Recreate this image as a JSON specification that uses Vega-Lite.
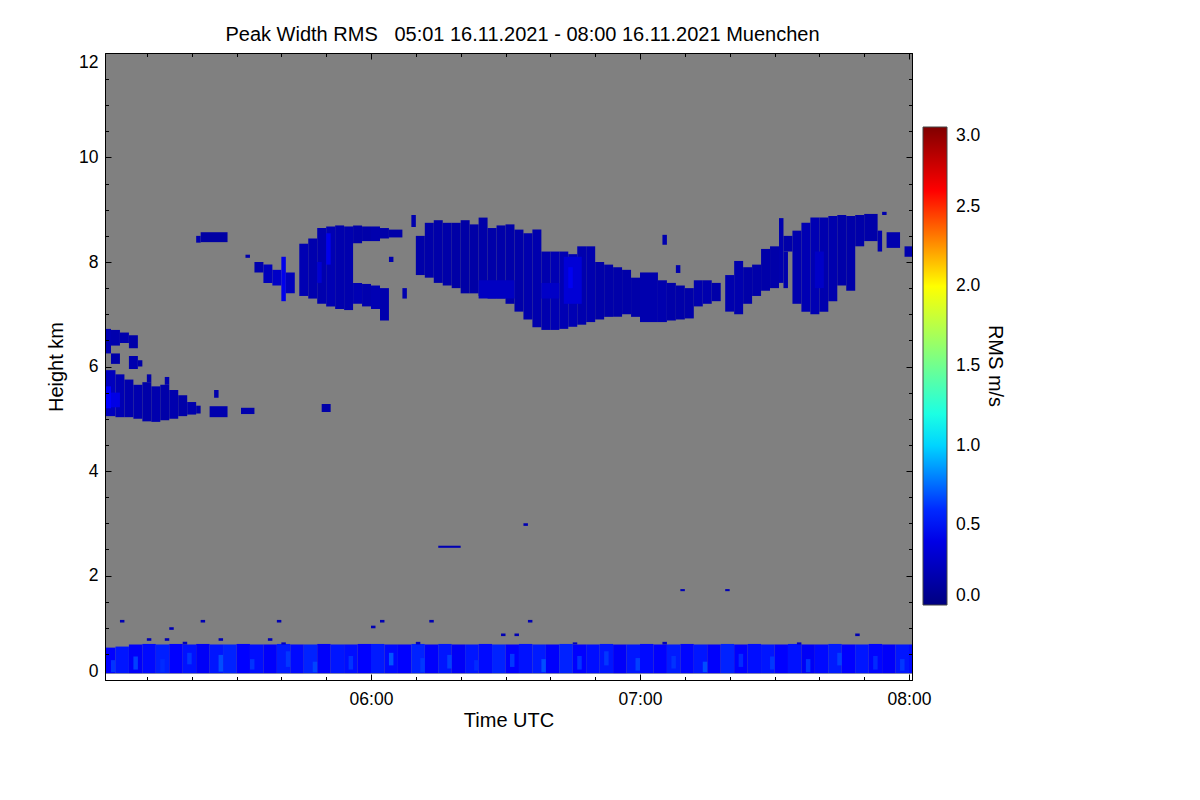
{
  "$schema": "https://vega.github.io/schema/vega-lite/v6.json",
  "autosize": {"type": "none"},
  "padding": {"left": 105, "top": 53, "right": 288, "bottom": 120},
  "width": 807,
  "height": 627,
  "background": "white",
  "title": {
    "text": "Peak Width RMS\u00a0\u00a0\u00a005:01 16.11.2021 - 08:00 16.11.2021 Muenchen",
    "font": "Liberation Sans", "fontSize": 20, "fontWeight": "normal", "color": "black",
    "dx": 14, "offset": 8
  },
  "layer": [
    {
      "data": {
        "values": [{"t0": "05:00", "t1": "08:02", "lo": 0.12, "hi": 12.3}],
        "format": {"parse": {"t0": "utc:'%H:%M'", "t1": "utc:'%H:%M'"}}
      },
      "mark": {"type": "rect", "color": "#808080", "clip": true},
      "encoding": {
        "x": {
          "field": "t0", "type": "temporal",
          "scale": {"type": "utc", "domain": [-2208970760000, -2208959960000]},
          "axis": {
            "orient": "bottom", "title": "Time UTC", "zindex": 1,
            "values": [-2208967200000, -2208963600000, -2208960000000],
            "format": "%H:%M", "tickSize": -6,
            "labelPadding": 16, "titlePadding": 3, "labelFlush": false
          }
        },
        "x2": {"field": "t1"},
        "y": {
          "field": "lo", "type": "quantitative",
          "scale": {"domain": [0, 12], "nice": false},
          "axis": {
            "orient": "left", "title": "Height km", "zindex": 1,
            "values": [0, 2, 4, 6, 8, 10, 12], "tickSize": -6,
            "labelPadding": 13, "titlePadding": 12, "labelFlush": true
          }
        },
        "y2": {"field": "hi"}
      }
    },
    {
      "data": {
        "values": [{"t0": "05:00", "t1": "05:00", "lo": 0, "hi": 0}],
        "format": {"parse": {"t0": "utc:'%H:%M'", "t1": "utc:'%H:%M'"}}
      },
      "mark": {"type": "rect", "opacity": 0, "clip": true},
      "encoding": {
        "x": {
          "field": "t0", "type": "temporal",
          "axis": {
            "orient": "bottom", "title": null, "labels": false, "domain": false, "zindex": 1,
            "values": [-2208970200000, -2208969600000, -2208969000000, -2208968400000, -2208967800000, -2208967200000, -2208966600000, -2208966000000, -2208965400000, -2208964800000, -2208964200000, -2208963600000, -2208963000000, -2208962400000, -2208961800000, -2208961200000, -2208960600000, -2208960000000],
            "tickSize": -3.5
          }
        },
        "x2": {"field": "t1"},
        "y": {
          "field": "lo", "type": "quantitative",
          "axis": {
            "orient": "left", "title": null, "labels": false, "domain": false, "zindex": 1,
            "values": [0.5, 1, 1.5, 2.5, 3, 3.5, 4.5, 5, 5.5, 6.5, 7, 7.5, 8.5, 9, 9.5, 10.5, 11, 11.5],
            "tickSize": -3.5
          }
        },
        "y2": {"field": "hi"}
      }
    },
    {
      "data": {
        "values": [{"t0": "05:01", "t1": "05:01", "lo": 0, "hi": 0}],
        "format": {"parse": {"t0": "utc:'%H:%M'", "t1": "utc:'%H:%M'"}}
      },
      "mark": {"type": "rect", "opacity": 0, "clip": true},
      "encoding": {
        "x": {
          "field": "t0", "type": "temporal",
          "axis": {
            "orient": "top", "title": null, "labels": false, "zindex": 1,
            "values": [-2208967200000, -2208963600000, -2208960000000], "tickSize": -6
          }
        },
        "x2": {"field": "t1"},
        "y": {
          "field": "lo", "type": "quantitative",
          "axis": {
            "orient": "right", "title": null, "labels": false, "zindex": 1,
            "values": [0, 2, 4, 6, 8, 10, 12], "tickSize": -6
          }
        },
        "y2": {"field": "hi"}
      }
    },
    {
      "data": {
        "values": [
          {"t0": "05:00", "t1": "05:03", "lo": 0.13, "hi": 0.62, "v": 0.5},
          {"t0": "05:03", "t1": "05:06", "lo": 0.13, "hi": 0.64, "v": 0.55},
          {"t0": "05:06", "t1": "05:09", "lo": 0.13, "hi": 0.68, "v": 0.48},
          {"t0": "05:09", "t1": "05:12", "lo": 0.13, "hi": 0.69, "v": 0.52},
          {"t0": "05:12", "t1": "05:15", "lo": 0.13, "hi": 0.68, "v": 0.57},
          {"t0": "05:15", "t1": "05:18", "lo": 0.13, "hi": 0.69, "v": 0.5},
          {"t0": "05:18", "t1": "05:21", "lo": 0.13, "hi": 0.68, "v": 0.54},
          {"t0": "05:21", "t1": "05:24", "lo": 0.13, "hi": 0.69, "v": 0.47},
          {"t0": "05:24", "t1": "05:27", "lo": 0.13, "hi": 0.68, "v": 0.55},
          {"t0": "05:27", "t1": "05:30", "lo": 0.13, "hi": 0.68, "v": 0.58},
          {"t0": "05:30", "t1": "05:33", "lo": 0.13, "hi": 0.69, "v": 0.5},
          {"t0": "05:33", "t1": "05:36", "lo": 0.13, "hi": 0.68, "v": 0.53},
          {"t0": "05:36", "t1": "05:39", "lo": 0.13, "hi": 0.68, "v": 0.49},
          {"t0": "05:39", "t1": "05:42", "lo": 0.13, "hi": 0.69, "v": 0.56},
          {"t0": "05:42", "t1": "05:45", "lo": 0.13, "hi": 0.68, "v": 0.52},
          {"t0": "05:45", "t1": "05:48", "lo": 0.13, "hi": 0.68, "v": 0.58},
          {"t0": "05:48", "t1": "05:51", "lo": 0.13, "hi": 0.69, "v": 0.48},
          {"t0": "05:51", "t1": "05:54", "lo": 0.13, "hi": 0.68, "v": 0.55},
          {"t0": "05:54", "t1": "05:57", "lo": 0.13, "hi": 0.68, "v": 0.53},
          {"t0": "05:57", "t1": "06:00", "lo": 0.13, "hi": 0.69, "v": 0.5},
          {"t0": "06:00", "t1": "06:03", "lo": 0.13, "hi": 0.69, "v": 0.56},
          {"t0": "06:03", "t1": "06:06", "lo": 0.13, "hi": 0.68, "v": 0.52},
          {"t0": "06:06", "t1": "06:09", "lo": 0.13, "hi": 0.68, "v": 0.5},
          {"t0": "06:09", "t1": "06:12", "lo": 0.13, "hi": 0.69, "v": 0.58},
          {"t0": "06:12", "t1": "06:15", "lo": 0.13, "hi": 0.68, "v": 0.49},
          {"t0": "06:15", "t1": "06:18", "lo": 0.13, "hi": 0.69, "v": 0.55},
          {"t0": "06:18", "t1": "06:21", "lo": 0.13, "hi": 0.68, "v": 0.47},
          {"t0": "06:21", "t1": "06:24", "lo": 0.13, "hi": 0.68, "v": 0.55},
          {"t0": "06:24", "t1": "06:27", "lo": 0.13, "hi": 0.69, "v": 0.52},
          {"t0": "06:27", "t1": "06:30", "lo": 0.13, "hi": 0.68, "v": 0.58},
          {"t0": "06:30", "t1": "06:33", "lo": 0.13, "hi": 0.68, "v": 0.5},
          {"t0": "06:33", "t1": "06:36", "lo": 0.13, "hi": 0.69, "v": 0.54},
          {"t0": "06:36", "t1": "06:39", "lo": 0.13, "hi": 0.68, "v": 0.56},
          {"t0": "06:39", "t1": "06:42", "lo": 0.13, "hi": 0.68, "v": 0.49},
          {"t0": "06:42", "t1": "06:45", "lo": 0.13, "hi": 0.69, "v": 0.58},
          {"t0": "06:45", "t1": "06:48", "lo": 0.13, "hi": 0.68, "v": 0.5},
          {"t0": "06:48", "t1": "06:51", "lo": 0.13, "hi": 0.68, "v": 0.53},
          {"t0": "06:51", "t1": "06:54", "lo": 0.13, "hi": 0.69, "v": 0.55},
          {"t0": "06:54", "t1": "06:57", "lo": 0.13, "hi": 0.68, "v": 0.48},
          {"t0": "06:57", "t1": "07:00", "lo": 0.13, "hi": 0.68, "v": 0.55},
          {"t0": "07:00", "t1": "07:03", "lo": 0.13, "hi": 0.69, "v": 0.52},
          {"t0": "07:03", "t1": "07:06", "lo": 0.13, "hi": 0.68, "v": 0.5},
          {"t0": "07:06", "t1": "07:09", "lo": 0.13, "hi": 0.68, "v": 0.56},
          {"t0": "07:09", "t1": "07:12", "lo": 0.13, "hi": 0.69, "v": 0.51},
          {"t0": "07:12", "t1": "07:15", "lo": 0.13, "hi": 0.68, "v": 0.55},
          {"t0": "07:15", "t1": "07:18", "lo": 0.13, "hi": 0.68, "v": 0.49},
          {"t0": "07:18", "t1": "07:21", "lo": 0.13, "hi": 0.69, "v": 0.58},
          {"t0": "07:21", "t1": "07:24", "lo": 0.13, "hi": 0.68, "v": 0.5},
          {"t0": "07:24", "t1": "07:27", "lo": 0.13, "hi": 0.69, "v": 0.53},
          {"t0": "07:27", "t1": "07:30", "lo": 0.13, "hi": 0.68, "v": 0.55},
          {"t0": "07:30", "t1": "07:33", "lo": 0.13, "hi": 0.68, "v": 0.5},
          {"t0": "07:33", "t1": "07:36", "lo": 0.13, "hi": 0.69, "v": 0.54},
          {"t0": "07:36", "t1": "07:39", "lo": 0.13, "hi": 0.68, "v": 0.47},
          {"t0": "07:39", "t1": "07:42", "lo": 0.13, "hi": 0.68, "v": 0.52},
          {"t0": "07:42", "t1": "07:45", "lo": 0.13, "hi": 0.69, "v": 0.56},
          {"t0": "07:45", "t1": "07:48", "lo": 0.13, "hi": 0.68, "v": 0.5},
          {"t0": "07:48", "t1": "07:51", "lo": 0.13, "hi": 0.68, "v": 0.55},
          {"t0": "07:51", "t1": "07:54", "lo": 0.13, "hi": 0.69, "v": 0.51},
          {"t0": "07:54", "t1": "07:57", "lo": 0.13, "hi": 0.68, "v": 0.48},
          {"t0": "07:57", "t1": "08:00", "lo": 0.13, "hi": 0.68, "v": 0.55},
          {"t0": "08:00", "t1": "08:03", "lo": 0.13, "hi": 0.68, "v": 0.52},
          {"t0": "05:02", "t1": "05:03", "lo": 0.15, "hi": 0.38, "v": 0.62},
          {"t0": "05:07", "t1": "05:08", "lo": 0.2, "hi": 0.45, "v": 0.65},
          {"t0": "05:13", "t1": "05:14", "lo": 0.15, "hi": 0.4, "v": 0.6},
          {"t0": "05:19", "t1": "05:20", "lo": 0.3, "hi": 0.52, "v": 0.63},
          {"t0": "05:26", "t1": "05:27", "lo": 0.16, "hi": 0.48, "v": 0.68},
          {"t0": "05:33", "t1": "05:34", "lo": 0.2, "hi": 0.4, "v": 0.62},
          {"t0": "05:41", "t1": "05:42", "lo": 0.25, "hi": 0.55, "v": 0.63},
          {"t0": "05:47", "t1": "05:48", "lo": 0.15, "hi": 0.35, "v": 0.66},
          {"t0": "05:55", "t1": "05:56", "lo": 0.2, "hi": 0.46, "v": 0.62},
          {"t0": "06:04", "t1": "06:05", "lo": 0.28, "hi": 0.52, "v": 0.7},
          {"t0": "06:11", "t1": "06:12", "lo": 0.15, "hi": 0.42, "v": 0.63},
          {"t0": "06:17", "t1": "06:18", "lo": 0.22, "hi": 0.48, "v": 0.65},
          {"t0": "06:23", "t1": "06:24", "lo": 0.18, "hi": 0.38, "v": 0.6},
          {"t0": "06:31", "t1": "06:32", "lo": 0.25, "hi": 0.5, "v": 0.63},
          {"t0": "06:38", "t1": "06:39", "lo": 0.15, "hi": 0.4, "v": 0.68},
          {"t0": "06:46", "t1": "06:47", "lo": 0.2, "hi": 0.46, "v": 0.62},
          {"t0": "06:52", "t1": "06:53", "lo": 0.28, "hi": 0.55, "v": 0.63},
          {"t0": "06:59", "t1": "07:00", "lo": 0.18, "hi": 0.42, "v": 0.65},
          {"t0": "07:07", "t1": "07:08", "lo": 0.22, "hi": 0.46, "v": 0.62},
          {"t0": "07:14", "t1": "07:15", "lo": 0.15, "hi": 0.35, "v": 0.68},
          {"t0": "07:22", "t1": "07:23", "lo": 0.25, "hi": 0.5, "v": 0.6},
          {"t0": "07:29", "t1": "07:30", "lo": 0.2, "hi": 0.45, "v": 0.63},
          {"t0": "07:37", "t1": "07:38", "lo": 0.15, "hi": 0.4, "v": 0.62},
          {"t0": "07:44", "t1": "07:45", "lo": 0.28, "hi": 0.52, "v": 0.65},
          {"t0": "07:52", "t1": "07:53", "lo": 0.2, "hi": 0.46, "v": 0.6},
          {"t0": "07:58", "t1": "07:59", "lo": 0.18, "hi": 0.4, "v": 0.63},
          {"t0": "05:04", "t1": "05:05", "lo": 1.1, "hi": 1.15, "v": 0.2},
          {"t0": "05:15", "t1": "05:16", "lo": 0.96, "hi": 1.01, "v": 0.2},
          {"t0": "05:22", "t1": "05:23", "lo": 1.1, "hi": 1.15, "v": 0.2},
          {"t0": "05:39", "t1": "05:40", "lo": 1.1, "hi": 1.15, "v": 0.2},
          {"t0": "06:02", "t1": "06:03", "lo": 1.1, "hi": 1.15, "v": 0.2},
          {"t0": "06:13", "t1": "06:14", "lo": 1.1, "hi": 1.15, "v": 0.2},
          {"t0": "06:35", "t1": "06:36", "lo": 1.1, "hi": 1.15, "v": 0.2},
          {"t0": "06:00", "t1": "06:01", "lo": 0.99, "hi": 1.04, "v": 0.2},
          {"t0": "05:10", "t1": "05:11", "lo": 0.75, "hi": 0.8, "v": 0.2},
          {"t0": "05:14", "t1": "05:15", "lo": 0.75, "hi": 0.8, "v": 0.2},
          {"t0": "05:26", "t1": "05:27", "lo": 0.75, "hi": 0.8, "v": 0.2},
          {"t0": "05:37", "t1": "05:38", "lo": 0.75, "hi": 0.8, "v": 0.2},
          {"t0": "06:29", "t1": "06:30", "lo": 0.84, "hi": 0.89, "v": 0.2},
          {"t0": "06:32", "t1": "06:33", "lo": 0.84, "hi": 0.89, "v": 0.2},
          {"t0": "07:48", "t1": "07:49", "lo": 0.84, "hi": 0.89, "v": 0.2},
          {"t0": "05:18", "t1": "05:19", "lo": 0.68, "hi": 0.73, "v": 0.25},
          {"t0": "05:40", "t1": "05:41", "lo": 0.68, "hi": 0.72, "v": 0.25},
          {"t0": "06:10", "t1": "06:11", "lo": 0.68, "hi": 0.73, "v": 0.25},
          {"t0": "06:45", "t1": "06:46", "lo": 0.68, "hi": 0.72, "v": 0.25},
          {"t0": "07:05", "t1": "07:06", "lo": 0.68, "hi": 0.73, "v": 0.25},
          {"t0": "07:35", "t1": "07:36", "lo": 0.68, "hi": 0.72, "v": 0.25},
          {"t0": "06:15", "t1": "06:20", "lo": 2.53, "hi": 2.57, "v": 0.2},
          {"t0": "06:34", "t1": "06:35", "lo": 2.95, "hi": 3.0, "v": 0.2},
          {"t0": "07:09", "t1": "07:10", "lo": 1.7, "hi": 1.74, "v": 0.2},
          {"t0": "07:19", "t1": "07:20", "lo": 1.7, "hi": 1.74, "v": 0.2},
          {"t0": "05:00", "t1": "05:02", "lo": 6.25, "hi": 6.72, "v": 0.2},
          {"t0": "05:02", "t1": "05:04", "lo": 6.4, "hi": 6.7, "v": 0.18},
          {"t0": "05:02", "t1": "05:04", "lo": 6.05, "hi": 6.25, "v": 0.16},
          {"t0": "05:04", "t1": "05:06", "lo": 6.45, "hi": 6.65, "v": 0.18},
          {"t0": "05:06", "t1": "05:08", "lo": 6.35, "hi": 6.6, "v": 0.16},
          {"t0": "05:06", "t1": "05:08", "lo": 5.95, "hi": 6.2, "v": 0.18},
          {"t0": "05:08", "t1": "05:09", "lo": 6.0, "hi": 6.12, "v": 0.16},
          {"t0": "05:00", "t1": "05:03", "lo": 5.05, "hi": 5.93, "v": 0.24},
          {"t0": "05:03", "t1": "05:05", "lo": 5.03, "hi": 5.85, "v": 0.2},
          {"t0": "05:05", "t1": "05:07", "lo": 5.03, "hi": 5.75, "v": 0.18},
          {"t0": "05:07", "t1": "05:09", "lo": 5.0, "hi": 5.65, "v": 0.18},
          {"t0": "05:09", "t1": "05:11", "lo": 4.95, "hi": 5.7, "v": 0.16},
          {"t0": "05:10", "t1": "05:11", "lo": 5.7, "hi": 5.85, "v": 0.16},
          {"t0": "05:11", "t1": "05:13", "lo": 4.94, "hi": 5.62, "v": 0.18},
          {"t0": "05:13", "t1": "05:15", "lo": 4.97, "hi": 5.65, "v": 0.16},
          {"t0": "05:14", "t1": "05:15", "lo": 5.65, "hi": 5.8, "v": 0.18},
          {"t0": "05:15", "t1": "05:17", "lo": 5.0, "hi": 5.55, "v": 0.18},
          {"t0": "05:17", "t1": "05:19", "lo": 5.05, "hi": 5.45, "v": 0.16},
          {"t0": "05:19", "t1": "05:21", "lo": 5.08, "hi": 5.32, "v": 0.18},
          {"t0": "05:21", "t1": "05:22", "lo": 5.1, "hi": 5.25, "v": 0.16},
          {"t0": "05:00", "t1": "05:02", "lo": 5.2, "hi": 5.62, "v": 0.5},
          {"t0": "05:02", "t1": "05:04", "lo": 5.22, "hi": 5.5, "v": 0.4},
          {"t0": "05:24", "t1": "05:28", "lo": 5.03, "hi": 5.24, "v": 0.18},
          {"t0": "05:25", "t1": "05:26", "lo": 5.4, "hi": 5.55, "v": 0.18},
          {"t0": "05:31", "t1": "05:34", "lo": 5.09, "hi": 5.21, "v": 0.18},
          {"t0": "05:49", "t1": "05:51", "lo": 5.13, "hi": 5.28, "v": 0.16},
          {"t0": "05:22", "t1": "05:28", "lo": 8.38, "hi": 8.57, "v": 0.14},
          {"t0": "05:21", "t1": "05:22", "lo": 8.37, "hi": 8.5, "v": 0.18},
          {"t0": "05:34", "t1": "05:36", "lo": 7.8, "hi": 8.0, "v": 0.18},
          {"t0": "05:36", "t1": "05:38", "lo": 7.6, "hi": 7.95, "v": 0.24},
          {"t0": "05:38", "t1": "05:40", "lo": 7.55, "hi": 7.85, "v": 0.28},
          {"t0": "05:40", "t1": "05:41", "lo": 7.25, "hi": 8.1, "v": 0.42},
          {"t0": "05:41", "t1": "05:43", "lo": 7.4, "hi": 7.8, "v": 0.24},
          {"t0": "05:32", "t1": "05:33", "lo": 8.08, "hi": 8.14, "v": 0.18},
          {"t0": "05:44", "t1": "05:46", "lo": 7.35, "hi": 8.35, "v": 0.2},
          {"t0": "05:46", "t1": "05:48", "lo": 7.3, "hi": 8.45, "v": 0.18},
          {"t0": "05:48", "t1": "05:50", "lo": 7.2, "hi": 8.65, "v": 0.18},
          {"t0": "05:50", "t1": "05:52", "lo": 7.15, "hi": 8.68, "v": 0.2},
          {"t0": "05:52", "t1": "05:54", "lo": 7.1, "hi": 8.7, "v": 0.18},
          {"t0": "05:54", "t1": "05:56", "lo": 7.08, "hi": 8.68, "v": 0.18},
          {"t0": "05:56", "t1": "05:58", "lo": 8.36, "hi": 8.7, "v": 0.16},
          {"t0": "05:56", "t1": "05:58", "lo": 7.2, "hi": 7.6, "v": 0.2},
          {"t0": "05:58", "t1": "06:00", "lo": 8.4, "hi": 8.68, "v": 0.16},
          {"t0": "05:58", "t1": "06:00", "lo": 7.15, "hi": 7.58, "v": 0.18},
          {"t0": "06:00", "t1": "06:02", "lo": 8.4, "hi": 8.68, "v": 0.18},
          {"t0": "06:00", "t1": "06:02", "lo": 7.1, "hi": 7.55, "v": 0.2},
          {"t0": "06:02", "t1": "06:04", "lo": 8.45, "hi": 8.65, "v": 0.16},
          {"t0": "06:02", "t1": "06:04", "lo": 6.88, "hi": 7.5, "v": 0.18},
          {"t0": "06:04", "t1": "06:07", "lo": 8.47, "hi": 8.62, "v": 0.16},
          {"t0": "05:50", "t1": "05:51", "lo": 7.95, "hi": 8.55, "v": 0.42},
          {"t0": "05:48", "t1": "05:49", "lo": 7.6, "hi": 8.0, "v": 0.32},
          {"t0": "06:04", "t1": "06:05", "lo": 8.0, "hi": 8.1, "v": 0.18},
          {"t0": "06:07", "t1": "06:08", "lo": 7.3, "hi": 7.5, "v": 0.18},
          {"t0": "06:09", "t1": "06:10", "lo": 8.67, "hi": 8.9, "v": 0.18},
          {"t0": "06:10", "t1": "06:12", "lo": 7.75, "hi": 8.5, "v": 0.16},
          {"t0": "06:12", "t1": "06:14", "lo": 7.7, "hi": 8.75, "v": 0.16},
          {"t0": "06:14", "t1": "06:16", "lo": 7.6, "hi": 8.8, "v": 0.16},
          {"t0": "06:16", "t1": "06:18", "lo": 7.55, "hi": 8.75, "v": 0.16},
          {"t0": "06:18", "t1": "06:20", "lo": 7.5, "hi": 8.75, "v": 0.15},
          {"t0": "06:20", "t1": "06:22", "lo": 7.4, "hi": 8.8, "v": 0.15},
          {"t0": "06:22", "t1": "06:24", "lo": 7.4, "hi": 8.72, "v": 0.15},
          {"t0": "06:24", "t1": "06:26", "lo": 7.35, "hi": 8.85, "v": 0.16},
          {"t0": "06:26", "t1": "06:28", "lo": 7.3, "hi": 8.65, "v": 0.16},
          {"t0": "06:28", "t1": "06:30", "lo": 7.3, "hi": 8.7, "v": 0.16},
          {"t0": "06:30", "t1": "06:32", "lo": 7.2, "hi": 8.72, "v": 0.16},
          {"t0": "06:32", "t1": "06:34", "lo": 7.05, "hi": 8.62, "v": 0.16},
          {"t0": "06:34", "t1": "06:36", "lo": 6.9, "hi": 8.55, "v": 0.18},
          {"t0": "06:36", "t1": "06:38", "lo": 6.75, "hi": 8.62, "v": 0.18},
          {"t0": "06:38", "t1": "06:40", "lo": 6.7, "hi": 8.2, "v": 0.18},
          {"t0": "06:40", "t1": "06:42", "lo": 6.7, "hi": 8.2, "v": 0.2},
          {"t0": "06:42", "t1": "06:44", "lo": 6.72, "hi": 8.2, "v": 0.2},
          {"t0": "06:44", "t1": "06:46", "lo": 6.76, "hi": 8.15, "v": 0.2},
          {"t0": "06:46", "t1": "06:48", "lo": 6.8, "hi": 8.3, "v": 0.18},
          {"t0": "06:48", "t1": "06:50", "lo": 6.85, "hi": 8.3, "v": 0.18},
          {"t0": "06:50", "t1": "06:52", "lo": 6.9, "hi": 8.0, "v": 0.16},
          {"t0": "06:52", "t1": "06:54", "lo": 6.95, "hi": 7.95, "v": 0.16},
          {"t0": "06:54", "t1": "06:56", "lo": 6.95, "hi": 7.9, "v": 0.16},
          {"t0": "06:56", "t1": "06:58", "lo": 7.0, "hi": 7.85, "v": 0.16},
          {"t0": "06:58", "t1": "07:00", "lo": 6.95, "hi": 7.7, "v": 0.16},
          {"t0": "07:00", "t1": "07:02", "lo": 6.85, "hi": 7.8, "v": 0.18},
          {"t0": "07:02", "t1": "07:04", "lo": 6.85, "hi": 7.8, "v": 0.18},
          {"t0": "07:04", "t1": "07:06", "lo": 6.85, "hi": 7.65, "v": 0.18},
          {"t0": "07:06", "t1": "07:08", "lo": 6.88, "hi": 7.6, "v": 0.16},
          {"t0": "07:08", "t1": "07:10", "lo": 6.9, "hi": 7.55, "v": 0.16},
          {"t0": "07:10", "t1": "07:12", "lo": 6.92, "hi": 7.5, "v": 0.16},
          {"t0": "07:12", "t1": "07:14", "lo": 7.15, "hi": 7.65, "v": 0.18},
          {"t0": "07:14", "t1": "07:16", "lo": 7.2, "hi": 7.65, "v": 0.18},
          {"t0": "07:16", "t1": "07:18", "lo": 7.25, "hi": 7.6, "v": 0.16},
          {"t0": "06:43", "t1": "06:47", "lo": 7.2, "hi": 8.1, "v": 0.34},
          {"t0": "06:44", "t1": "06:45", "lo": 7.5, "hi": 7.9, "v": 0.45},
          {"t0": "06:24", "t1": "06:32", "lo": 7.3, "hi": 7.65, "v": 0.26},
          {"t0": "06:38", "t1": "06:42", "lo": 7.3, "hi": 7.6, "v": 0.28},
          {"t0": "07:05", "t1": "07:06", "lo": 8.33, "hi": 8.52, "v": 0.18},
          {"t0": "07:08", "t1": "07:09", "lo": 7.79, "hi": 7.94, "v": 0.18},
          {"t0": "07:19", "t1": "07:21", "lo": 7.05, "hi": 7.75, "v": 0.18},
          {"t0": "07:21", "t1": "07:23", "lo": 7.0, "hi": 8.02, "v": 0.18},
          {"t0": "07:23", "t1": "07:25", "lo": 7.2, "hi": 7.9, "v": 0.16},
          {"t0": "07:25", "t1": "07:27", "lo": 7.35, "hi": 7.95, "v": 0.16},
          {"t0": "07:27", "t1": "07:29", "lo": 7.45, "hi": 8.25, "v": 0.16},
          {"t0": "07:29", "t1": "07:31", "lo": 7.5, "hi": 8.3, "v": 0.16},
          {"t0": "07:31", "t1": "07:32", "lo": 7.6, "hi": 8.84, "v": 0.18},
          {"t0": "07:32", "t1": "07:34", "lo": 8.2, "hi": 8.5, "v": 0.16},
          {"t0": "07:32", "t1": "07:33", "lo": 7.5, "hi": 8.2, "v": 0.18},
          {"t0": "07:34", "t1": "07:36", "lo": 7.2, "hi": 8.6, "v": 0.18},
          {"t0": "07:36", "t1": "07:38", "lo": 7.05, "hi": 8.75, "v": 0.2},
          {"t0": "07:38", "t1": "07:40", "lo": 7.0, "hi": 8.85, "v": 0.2},
          {"t0": "07:40", "t1": "07:42", "lo": 7.05, "hi": 8.85, "v": 0.18},
          {"t0": "07:42", "t1": "07:44", "lo": 7.25, "hi": 8.88, "v": 0.18},
          {"t0": "07:44", "t1": "07:46", "lo": 7.55, "hi": 8.9, "v": 0.16},
          {"t0": "07:46", "t1": "07:48", "lo": 7.45, "hi": 8.88, "v": 0.16},
          {"t0": "07:48", "t1": "07:50", "lo": 8.3, "hi": 8.9, "v": 0.16},
          {"t0": "07:50", "t1": "07:53", "lo": 8.4, "hi": 8.92, "v": 0.16},
          {"t0": "07:53", "t1": "07:54", "lo": 8.2, "hi": 8.6, "v": 0.18},
          {"t0": "07:54", "t1": "07:55", "lo": 8.9, "hi": 8.96, "v": 0.18},
          {"t0": "07:55", "t1": "07:58", "lo": 8.27, "hi": 8.57, "v": 0.18},
          {"t0": "07:59", "t1": "08:01", "lo": 8.1, "hi": 8.3, "v": 0.18},
          {"t0": "07:39", "t1": "07:41", "lo": 7.5, "hi": 8.2, "v": 0.28}
        ],
        "format": {"parse": {"t0": "utc:'%H:%M'", "t1": "utc:'%H:%M'"}}
      },
      "mark": {"type": "rect", "clip": true},
      "encoding": {
        "x": {
          "field": "t0", "type": "temporal",
          "axis": {
            "orient": "top", "title": null, "labels": false, "domain": false, "zindex": 1,
            "values": [-2208970200000, -2208969600000, -2208969000000, -2208968400000, -2208967800000, -2208967200000, -2208966600000, -2208966000000, -2208965400000, -2208964800000, -2208964200000, -2208963600000, -2208963000000, -2208962400000, -2208961800000, -2208961200000, -2208960600000, -2208960000000],
            "tickSize": -3.5
          }
        },
        "x2": {"field": "t1"},
        "y": {
          "field": "lo", "type": "quantitative",
          "axis": {
            "orient": "right", "title": null, "labels": false, "domain": false, "zindex": 1,
            "values": [0.5, 1, 1.5, 2.5, 3, 3.5, 4.5, 5, 5.5, 6.5, 7, 7.5, 8.5, 9, 9.5, 10.5, 11, 11.5],
            "tickSize": -3.5
          }
        },
        "y2": {"field": "hi"},
        "color": {
          "field": "v", "type": "quantitative",
          "scale": {
            "domain": [0, 0.5, 1.1, 1.5, 2.0, 2.6, 3.0],
            "range": ["#000080", "#0000ff", "#00ffff", "#70ff90", "#ffff00", "#ff0000", "#800000"],
            "interpolate": "rgb"
          },
          "legend": {
            "orient": "none", "legendX": 818, "legendY": 74,
            "direction": "vertical",
            "gradientLength": 478, "gradientThickness": 24,
            "gradientStrokeColor": "#444444", "gradientStrokeWidth": 1,
            "values": [0, 0.5, 1, 1.5, 2, 2.5, 3], "format": ".1f",
            "labelFont": "Liberation Sans", "labelFontSize": 17.5, "labelOffset": 9, "labelColor": "black",
            "title": "RMS m/s", "titleOrient": "right", "titleAngle": 270,
            "titleFont": "Liberation Sans", "titleFontSize": 20, "titleFontWeight": "normal", "titleColor": "black",
            "titlePadding": 5
          }
        }
      }
    }
  ],
  "resolve": {"axis": {"x": "independent", "y": "independent"}},
  "config": {
    "view": {"stroke": "black", "strokeWidth": 1},
    "axis": {
      "grid": false, "domainColor": "black", "tickColor": "black",
      "labelColor": "black", "titleColor": "black",
      "labelFont": "Liberation Sans", "titleFont": "Liberation Sans",
      "labelFontSize": 17.5, "titleFontSize": 20, "titleFontWeight": "normal"
    }
  }
}
